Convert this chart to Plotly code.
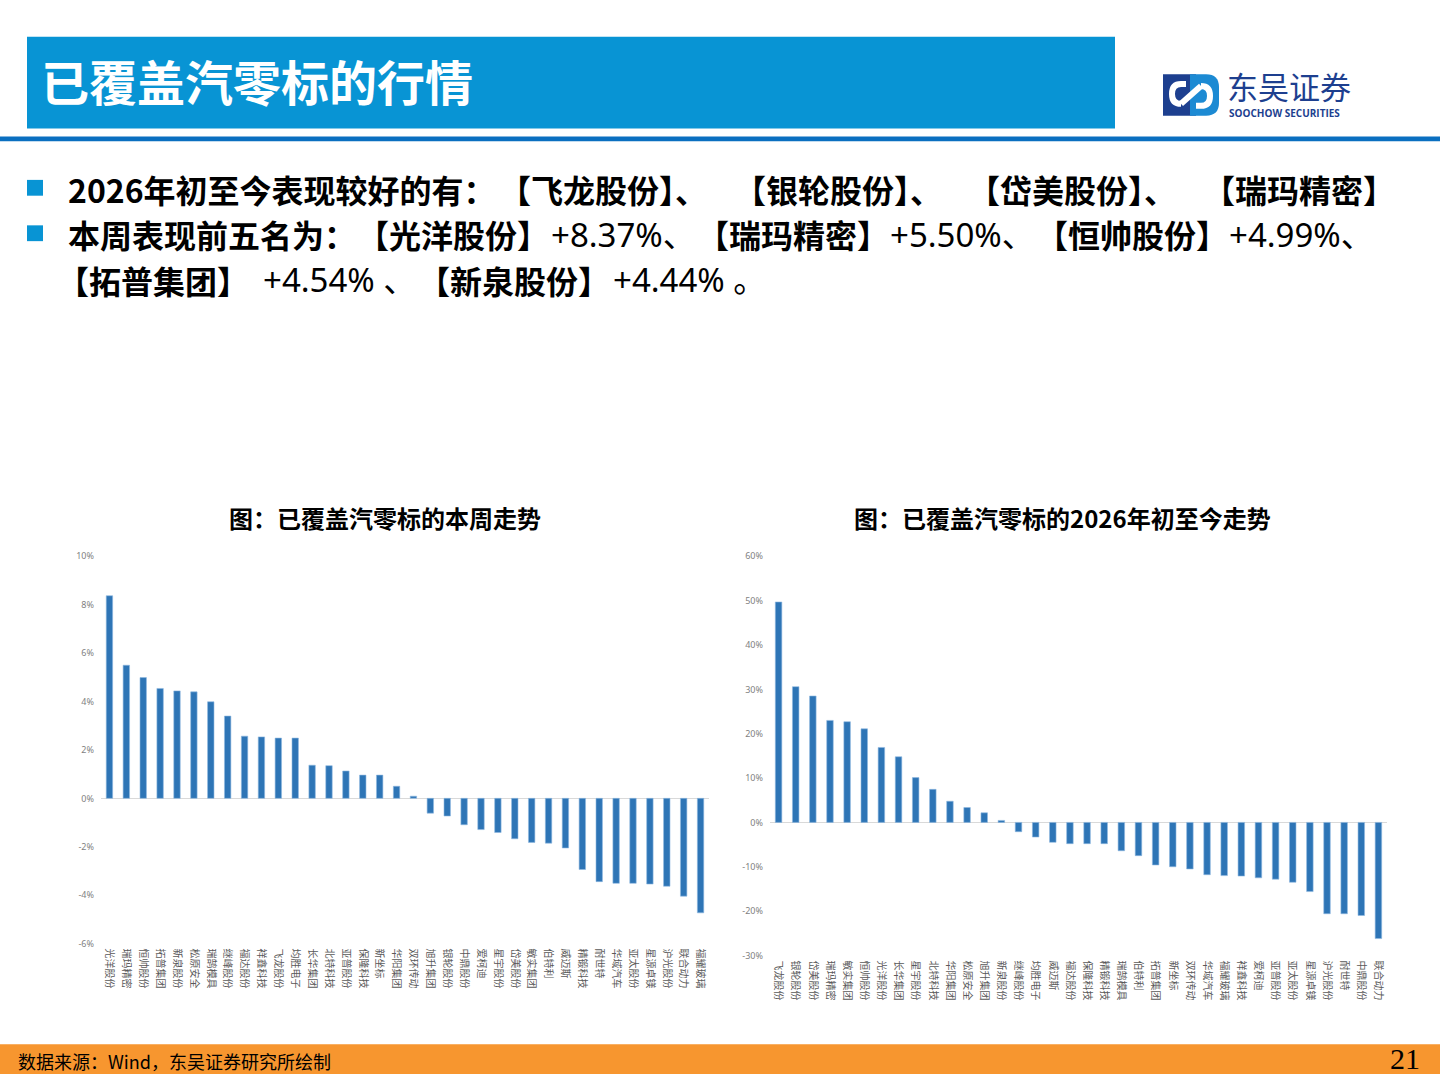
import plotly.graph_objects as go

# ---------------- data ----------------
week_names = ["光洋股份", "瑞玛精密", "恒帅股份", "拓普集团", "新泉股份", "松原安全", "瑞鹄模具", "继峰股份",
              "福达股份", "祥鑫科技", "飞龙股份", "均胜电子", "长华集团", "北特科技", "亚普股份", "保隆科技",
              "新坐标", "华阳集团", "双环传动", "旭升集团", "银轮股份", "中鼎股份", "爱柯迪", "星宇股份",
              "岱美股份", "敏实集团", "伯特利", "威迈斯", "精锻科技", "耐世特", "华域汽车", "亚太股份",
              "星源卓镁", "沪光股份", "联合动力", "福耀玻璃"]
week_values = [8.37, 5.50, 4.99, 4.54, 4.44, 4.40, 3.99, 3.40,
               2.57, 2.54, 2.49, 2.49, 1.37, 1.35, 1.13, 0.96,
               0.96, 0.50, 0.09, -0.61, -0.73, -1.09, -1.29, -1.41,
               -1.67, -1.82, -1.85, -2.05, -2.94, -3.44, -3.51, -3.51,
               -3.54, -3.63, -4.04, -4.73]

ytd_names = ["飞龙股份", "银轮股份", "岱美股份", "瑞玛精密", "敏实集团", "恒帅股份", "光洋股份", "长华集团",
             "星宇股份", "北特科技", "华阳集团", "松原安全", "旭升集团", "新泉股份", "继峰股份", "均胜电子",
             "威迈斯", "福达股份", "保隆科技", "精锻科技", "瑞鹄模具", "伯特利", "拓普集团", "新坐标",
             "双环传动", "华域汽车", "福耀玻璃", "祥鑫科技", "爱柯迪", "亚普股份", "亚太股份", "星源卓镁",
             "沪光股份", "耐世特", "中鼎股份", "联合动力"]
ytd_values = [49.7, 30.6, 28.5, 23.0, 22.7, 21.1, 16.9, 14.8,
              10.1, 7.45, 4.77, 3.35, 2.16, 0.45, -2.1, -3.3,
              -4.5, -4.8, -4.8, -4.8, -6.4, -7.5, -9.6, -10.0,
              -10.5, -11.8, -12.0, -12.1, -12.5, -12.8, -13.5, -15.6,
              -20.6, -20.6, -21.0, -26.2]

week_tickvals = [-6, -4, -2, 0, 2, 4, 6, 8, 10]
week_ticktext = ["-6%", "-4%", "-2%", "0%", "2%", "4%", "6%", "8%", "10%"]
ytd_tickvals = [-30, -20, -10, 0, 10, 20, 30, 40, 50, 60]
ytd_ticktext = ["-30%", "-20%", "-10%", "0%", "10%", "20%", "30%", "40%", "50%", "60%"]

W, H = 1440, 1080
CJK = "Noto Sans CJK SC, Noto Sans, sans-serif"
NUM = "Noto Sans, Noto Sans CJK SC, sans-serif"
BAR = "#2e75b6"
BLUE = "#0894d4"
NAVY = "#1d3f8f"


def px(x):
    return x / W


def py(y):
    return 1 - y / H


fig = go.Figure()
fig.add_trace(go.Bar(x=week_names, y=week_values, marker=dict(color=BAR, line=dict(width=0.6, color="#8fb8e0")),
                     xaxis="x", yaxis="y", showlegend=False))
fig.add_trace(go.Bar(x=ytd_names, y=ytd_values, marker=dict(color=BAR, line=dict(width=0.6, color="#8fb8e0")),
                     xaxis="x2", yaxis="y2", showlegend=False))

xcommon = dict(type="category", showgrid=False, showline=False, ticks="", tickangle=90,
               tickfont=dict(family=CJK, size=10, color="#595959"), ticklabelstandoff=4, fixedrange=True)
ycommon = dict(showgrid=False, showline=False, ticks="", zeroline=True, zerolinecolor="#d9d9d9",
               zerolinewidth=1, tickfont=dict(family="Noto Sans, sans-serif", size=9, color="#7f7f7f"),
               ticklabelstandoff=6, fixedrange=True)

fig.update_layout(
    width=W, height=H,
    margin=dict(l=0, r=0, t=0, b=0),
    paper_bgcolor="white", plot_bgcolor="rgba(0,0,0,0)",
    bargap=0.62,
    xaxis=dict(domain=[px(101), px(709)], anchor="y", **xcommon),
    yaxis=dict(domain=[py(948), py(556)], anchor="x", range=[-6, 10],
               tickvals=week_tickvals, ticktext=week_ticktext, **ycommon),
    xaxis2=dict(domain=[px(770), px(1387)], anchor="y2", **xcommon),
    yaxis2=dict(domain=[py(960), py(556)], anchor="x2", range=[-30, 60],
                tickvals=ytd_tickvals, ticktext=ytd_ticktext, **ycommon),
)

shapes = []
# header box
shapes.append(dict(type="rect", xref="paper", yref="paper", x0=px(27), x1=px(1115), y0=py(123), y1=py(30),
                   fillcolor=BLUE, line=dict(width=0), layer="below"))
# header rule
shapes.append(dict(type="rect", xref="paper", yref="paper", x0=0, x1=1, y0=py(136), y1=py(131),
                   fillcolor="#0a6fc0", line=dict(width=0), layer="below"))
# bullet squares
for yc in (183, 229):
    shapes.append(dict(type="rect", xref="paper", yref="paper", x0=px(27), x1=px(43), y0=py(yc + 8), y1=py(yc - 8),
                       fillcolor=BLUE, line=dict(width=0)))
# footer bar
shapes.append(dict(type="rect", xref="paper", yref="paper", x0=0, x1=1, y0=0, y1=py(1050),
                   fillcolor="#f7962f", line=dict(width=0), layer="below"))
# logo mark: navy block + light-blue rounded block + white link stroke
shapes.append(dict(type="rect", xref="paper", yref="paper", x0=px(1163), x1=px(1196), y0=py(110), y1=py(68),
                   fillcolor=NAVY, line=dict(width=0)))
shapes.append(dict(type="path", xref="paper", yref="paper",
                   path=f"M {px(1190)},{py(68)} L {px(1206)},{py(68)} Q {px(1219)},{py(68)} {px(1219)},{py(81)} "
                        f"L {px(1219)},{py(97)} Q {px(1219)},{py(110)} {px(1206)},{py(110)} L {px(1190)},{py(110)} Z",
                   fillcolor="#1c8ad3", line=dict(width=0)))
shapes.append(dict(type="path", xref="paper", yref="paper",
                   path=f"M {px(1186)},{py(78)} L {px(1181)},{py(78)} Q {px(1172)},{py(78)} {px(1172)},{py(88)} "
                        f"Q {px(1172)},{py(98)} {px(1181)},{py(98)}",
                   line=dict(color="white", width=6)))
shapes.append(dict(type="path", xref="paper", yref="paper",
                   path=f"M {px(1196)},{py(100)} L {px(1201)},{py(100)} Q {px(1210)},{py(100)} {px(1210)},{py(90)} "
                        f"Q {px(1210)},{py(80)} {px(1201)},{py(80)}",
                   line=dict(color="white", width=6)))
shapes.append(dict(type="line", xref="paper", yref="paper", x0=px(1181), y0=py(98), x1=px(1201), y1=py(80),
                   line=dict(color="white", width=6)))
fig.update_layout(shapes=shapes)

ann = []


def text(x, y, s, size, color="black", bold=False, family=CJK, xanchor="left"):
    ann.append(dict(xref="paper", yref="paper", x=px(x), y=py(y), text=s, showarrow=False,
                    xanchor=xanchor, yanchor="middle",
                    font=dict(family=family, size=size, color=color, weight="bold" if bold else "normal")))


# header title
text(39, 74, "已覆盖汽零标的行情", 48, color="white", bold=True)
# logo text
text(1225, 79, "东吴证券", 31, color=NAVY)
text(1227, 107, "SOOCHOW SECURITIES", 10, color=NAVY, bold=True, family="Open Sans, Noto Sans, sans-serif")

CS = 32   # CJK bullet text size
NS = 33   # number size
# bullet line 1
text(66, 184, "2026年初至今表现较好的有：", CS, bold=True)
text(497, 184, "【飞龙股份】、", CS, bold=True)
text(732, 184, "【银轮股份】、", CS, bold=True)
text(966, 184, "【岱美股份】、", CS, bold=True)
text(1201, 184, "【瑞玛精密】", CS, bold=True)
# bullet line 2
text(66, 230, "本周表现前五名为：", CS, bold=True)
text(355, 230, "【光洋股份】", CS, bold=True)
text(549, 230, "+8.37%、", NS, family=NUM)
text(695, 230, "【瑞玛精密】", CS, bold=True)
text(888, 230, "+5.50%、", NS, family=NUM)
text(1034, 230, "【恒帅股份】", CS, bold=True)
text(1227, 230, "+4.99%、", NS, family=NUM)
# bullet line 3
text(55, 276, "【拓普集团】", CS, bold=True)
text(261, 276, "+4.54% 、", NS, family=NUM)
text(416, 276, "【新泉股份】", CS, bold=True)
text(611, 276, "+4.44% 。", NS, family=NUM)

# chart titles
text(385, 517, "图：已覆盖汽零标的本周走势", 24, bold=True, xanchor="center")
text(1062, 517, "图：已覆盖汽零标的2026年初至今走势", 24, bold=True, xanchor="center")

# footer
text(16, 1067, "数据来源：Wind，东吴证券研究所绘制", 18)
text(1422, 1064, "21", 30, family="Liberation Serif, DejaVu Serif, serif", xanchor="right")

fig.update_layout(annotations=ann)

fig.write_html("out.html", config={"displayModeBar": False},
               post_script="document.body.style.margin='0px';document.body.style.overflow='hidden';")
